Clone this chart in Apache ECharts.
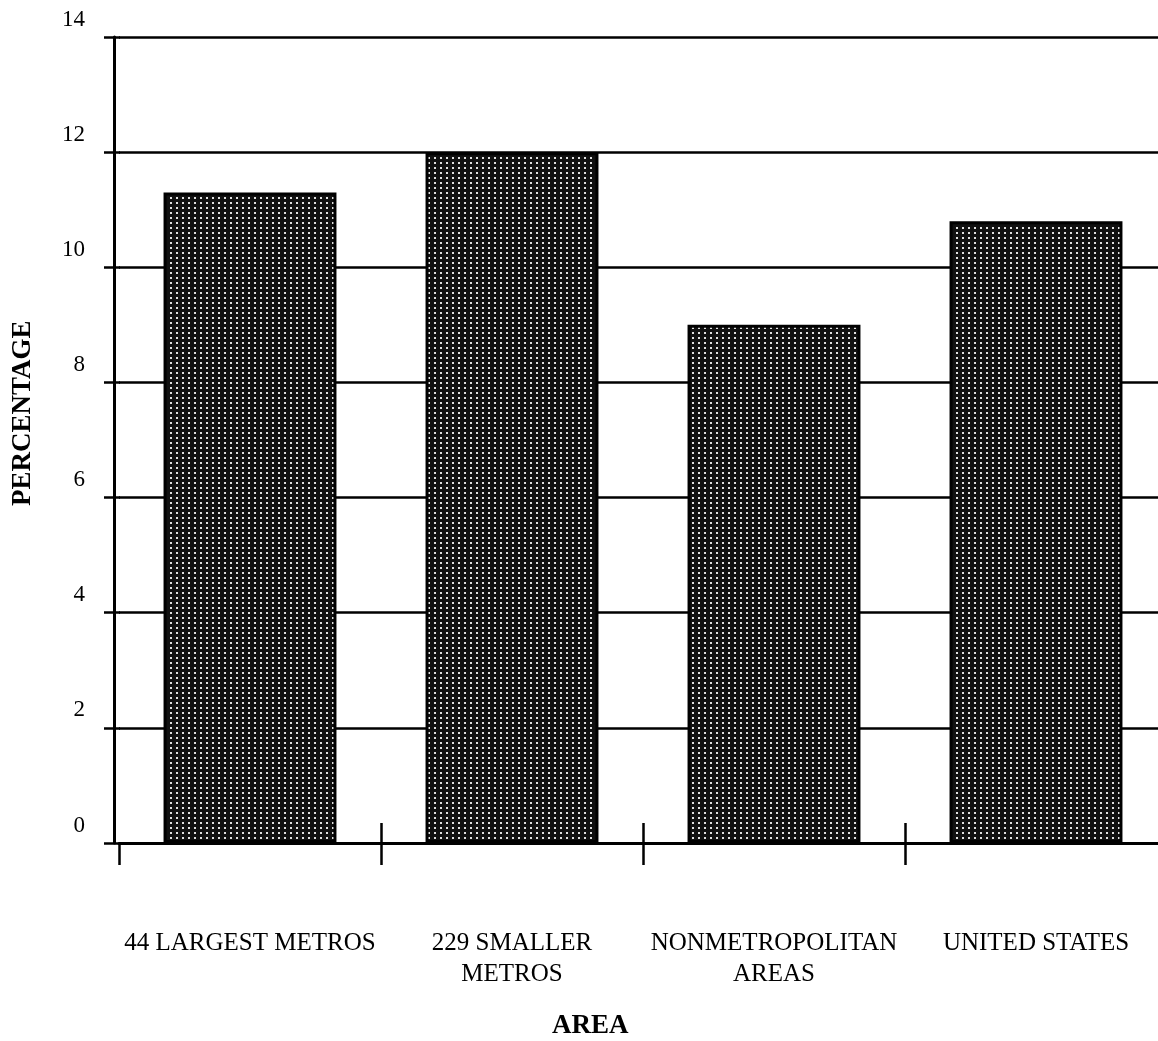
<!DOCTYPE html>
<html>
<head>
<meta charset="utf-8">
<script src="https://cdn.jsdelivr.net/npm/echarts@6/dist/echarts.min.js"></script>
<style>
html,body{margin:0;padding:0;background:#fff;overflow:hidden;}
#chart{width:1170px;height:1041px;}
</style>
</head>
<body>
<div id="chart"></div>
<script>
var categories = ['44 LARGEST METROS', '229 SMALLER\nMETROS', 'NONMETROPOLITAN\nAREAS', 'UNITED STATES'];
var values = [11.3, 12.0, 9.0, 10.8];
var yTicks = [0, 2, 4, 6, 8, 10, 12, 14];

var FONT = '"Liberation Serif", "DejaVu Serif", serif';

// dotted fill pattern
var pc = document.createElement('canvas');
pc.width = 6; pc.height = 5;
var pctx = pc.getContext('2d');
pctx.fillStyle = '#111';
pctx.fillRect(0, 0, 6, 5);
pctx.fillStyle = '#e0e0e0';
pctx.fillRect(2, 2, 2, 2);

var chart = echarts.init(document.getElementById('chart'));
chart.setOption({
  backgroundColor: '#fff',
  animation: false,
  grid: { left: 119, right: 3, top: 37, bottom: 198, containLabel: false },
  xAxis: [{
    type: 'category',
    data: categories,
    boundaryGap: true,
    axisLine: { show: true, lineStyle: { color: '#000', width: 3 } },
    axisTick: { show: true, interval: 0, length: 22, lineStyle: { color: '#000', width: 2.5 } },
    axisLabel: { interval: 0, margin: 85, color: '#000', fontFamily: FONT, fontSize: 25, lineHeight: 31, align: 'center' },
    splitLine: { show: false }
  }, {
    type: 'category',
    data: categories,
    position: 'bottom',
    boundaryGap: true,
    axisLine: { show: false },
    axisTick: { show: true, inside: true, interval: function (i) { return i !== 0; }, length: 20, lineStyle: { color: '#000', width: 2.5 } },
    axisLabel: { show: false },
    splitLine: { show: false }
  }],
  yAxis: [{
    type: 'value',
    min: 0, max: 14, interval: 2,
    offset: 5,
    axisLine: { show: true, lineStyle: { color: '#000', width: 3 } },
    axisTick: { show: true, length: 10, lineStyle: { color: '#000', width: 2.5 } },
    axisLabel: {
      margin: 29, color: '#000', fontFamily: FONT, fontSize: 23,
      verticalAlign: 'bottom', padding: [0, 0, 6, 0],
      formatter: function (v) { return yTicks.indexOf(v) >= 0 ? String(v) : ''; }
    },
    splitLine: { show: true, lineStyle: { color: '#000', width: 2.5 } }
  }, {
    type: 'value',
    position: 'left',
    min: 0, max: 14, interval: 2,
    offset: 5,
    axisLine: { show: false },
    axisTick: { show: true, inside: true, length: 6, lineStyle: { color: '#000', width: 2.5 } },
    axisLabel: { show: false },
    splitLine: { show: false }
  }],
  series: [{
    type: 'bar',
    data: values,
    barWidth: '66%',
    itemStyle: {
      color: { image: pc, repeat: 'repeat' },
      borderColor: '#000',
      borderWidth: 3
    }
  }],
  graphic: [{
    type: 'text',
    left: 552, top: 1013,
    style: { text: 'AREA', font: 'bold 27px ' + FONT, fill: '#000' }
  }, {
    type: 'text',
    rotation: Math.PI / 2,
    x: 10, y: 506,
    style: { text: 'PERCENTAGE', font: 'bold 27px ' + FONT, fill: '#000', textAlign: 'left', textVerticalAlign: 'top' }
  }]
});
</script>
</body>
</html>
